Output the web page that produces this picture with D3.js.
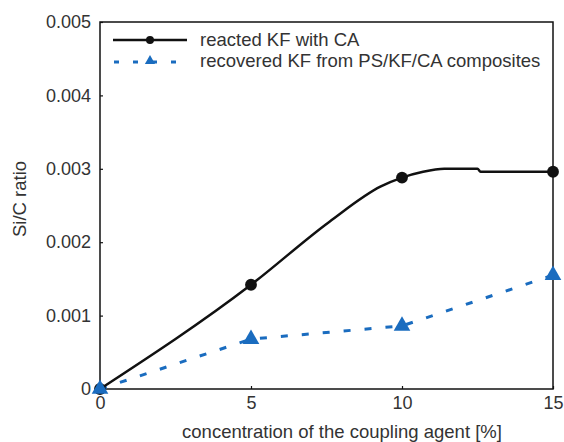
<!DOCTYPE html>
<html><head><meta charset="utf-8">
<script src="https://cdn.jsdelivr.net/npm/d3@7"></script>
<style>body{margin:0;background:#fff}svg{display:block}text{font-family:"Liberation Sans",Arial,Helvetica,sans-serif;fill:#333}</style>
</head><body><svg id="c" width="564" height="442"></svg>
<script>
// data
const concentrations = [0, 5, 10, 15];
const reactedKF = [0, 0.00142, 0.00288, 0.00296];
const recoveredKF = [0, 0.00068, 0.00086, 0.00155];
// smooth drawn curve of reacted KF
const reactedCurveX = [0, 5, 7.6, 9.3, 10, 10.7, 11.4, 12.5, 12.6, 15];
const reactedCurveY = [0, 0.00142, 0.00228, 0.00276, 0.00288, 0.00296, 0.003, 0.003, 0.00296, 0.00296];
const xTicks = [0, 5, 10, 15];
const yTicks = [0, 0.001, 0.002, 0.003, 0.004, 0.005];
const yTickLabels = ["0", "0.001", "0.002", "0.003", "0.004", "0.005"];
const seriesNames = ["reacted KF with CA", "recovered KF from PS/KF/CA composites"];
const xTitle = "concentration of the coupling agent [%]";
const yTitle = "Si/C ratio";

const svg = d3.select("#c");
const L = 100, R = 553, T = 22, B = 389;
const x = d3.scaleLinear().domain([0, 15]).range([L, R]);
const y = d3.scaleLinear().domain([0, 0.005]).range([B, T]);
const blue = "#1a6cbf";

// frame
svg.append("rect").attr("x", L).attr("y", T).attr("width", R - L).attr("height", B - T)
  .attr("fill", "none").attr("stroke", "#111").attr("stroke-width", 1.5);

// axes
const fs = 18;
const yAxis = d3.axisLeft(y).tickValues(yTicks).tickSize(-3).tickPadding(9)
  .tickFormat((d, i) => yTickLabels[i]);
const gy = svg.append("g").attr("transform", `translate(${L},0)`).call(yAxis);
const xAxis = d3.axisBottom(x).tickValues(xTicks).tickSize(-3).tickPadding(7).tickFormat(d3.format("d"));
const gx = svg.append("g").attr("transform", `translate(0,${B})`).call(xAxis);
[gx, gy].forEach(g => {
  g.select(".domain").remove();
  g.selectAll(".tick line").attr("stroke", "#111").attr("stroke-width", 1.2);
  g.selectAll(".tick text").attr("font-size", fs).attr("fill", "#333")
   .attr("font-family", '"Liberation Sans",Arial,sans-serif');
});

// titles
svg.append("text").attr("x", 342).attr("y", 438).attr("text-anchor", "middle")
  .attr("font-size", 18.5).text(xTitle);
svg.append("text").attr("transform", `translate(26,${199}) rotate(-90)`)
  .attr("text-anchor", "middle").attr("font-size", 18.5).text(yTitle);

// recovered line
const recData = concentrations.map((c, i) => [c, recoveredKF[i]]);
svg.append("path").datum(recData)
  .attr("d", d3.line().x(d => x(d[0])).y(d => y(d[1])))
  .attr("fill", "none").attr("stroke", blue).attr("stroke-width", 3)
  .attr("stroke-dasharray", "7,14");

// reacted line
const curve = reactedCurveX.map((c, i) => [c, reactedCurveY[i]]);
svg.append("path").datum(curve)
  .attr("d", d3.line().x(d => x(d[0])).y(d => y(d[1])).curve(d3.curveMonotoneX))
  .attr("fill", "none").attr("stroke", "#111").attr("stroke-width", 2.5);

// markers
const dot = d3.symbol().type(d3.symbolCircle).size(110);
svg.selectAll(".rm").data(concentrations.map((c, i) => [c, reactedKF[i]])).join("path")
  .attr("transform", d => `translate(${x(d[0])},${y(d[1])})`).attr("d", dot).attr("fill", "#111");
const tri = d3.symbol().type(d3.symbolTriangle).size(120);
svg.selectAll(".bm").data(recData).join("path")
  .attr("transform", d => `translate(${x(d[0])},${y(d[1])})`).attr("d", tri).attr("fill", blue);

// legend
const lg = svg.append("g");
lg.append("line").attr("x1", 113).attr("x2", 187).attr("y1", 40).attr("y2", 40)
  .attr("stroke", "#111").attr("stroke-width", 2.5);
lg.append("path").attr("transform", "translate(150,40)").attr("d", d3.symbol().type(d3.symbolCircle).size(50)).attr("fill", "#111");
lg.append("line").attr("x1", 114).attr("x2", 187).attr("y1", 62).attr("y2", 62)
  .attr("stroke", blue).attr("stroke-width", 3).attr("stroke-dasharray", "5,14");
lg.append("path").attr("transform", "translate(150,61)").attr("d", d3.symbol().type(d3.symbolTriangle).size(45)).attr("fill", blue);
seriesNames.forEach((n, i) => {
  lg.append("text").attr("x", 200).attr("y", 40 + i * 21).attr("dy", "0.35em")
    .attr("font-size", 18.5).text(n);
});
</script></body></html>
